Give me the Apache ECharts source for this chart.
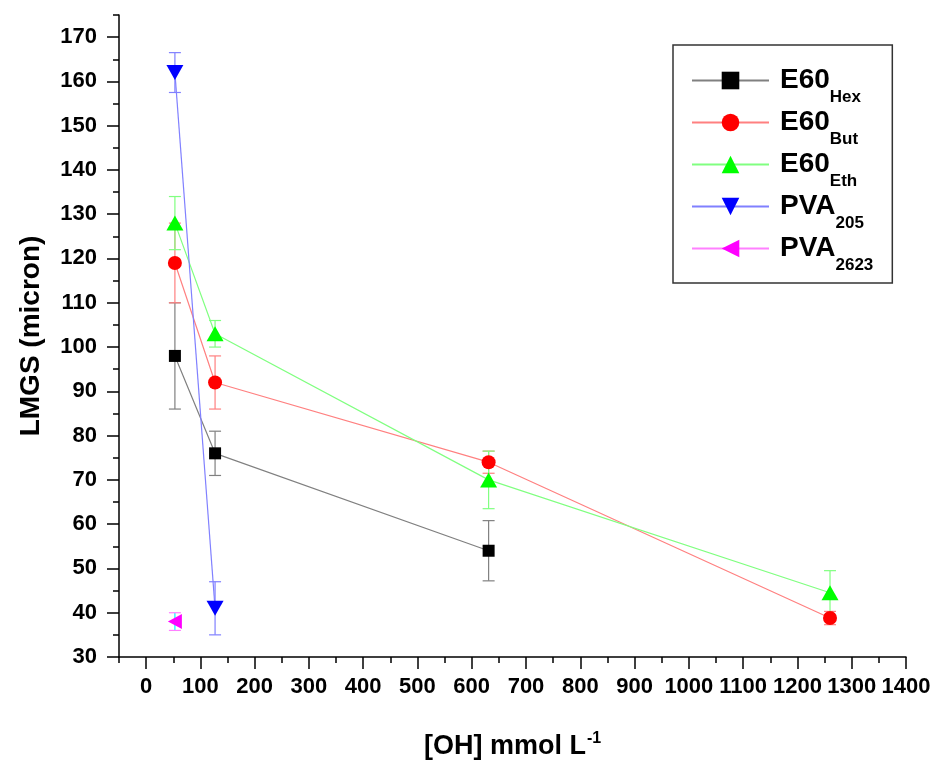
<!DOCTYPE html>
<html><head><meta charset="utf-8">
<script src="https://cdn.jsdelivr.net/npm/echarts@6/dist/echarts.min.js"></script>
<style>html,body{margin:0;padding:0;background:#fff}#c{width:934px;height:760px}</style>
</head><body><div id="c"></div>
<script>
// ---- data ----
const xValues = [53, 127, 631, 1260];
const hexY = [98, 76, 54];
const hexErr = [12, 5, 6.8];
const butY = [119, 92, 74, 38.8];
const butErr = [9, 6, 2.5, 1.5];
const ethY = [128, 103, 70, 44.5];
const ethErr = [6, 3, 6.5, 5];
const pva205X = [53, 127];
const pva205Y = [162, 41];
const pva205Err = [4.5, 6];
const pva2623X = [53];
const pva2623Y = [38];
const pva2623Err = [2];
const mainNames = ['E60', 'E60', 'E60', 'PVA', 'PVA'];
const subNames = ['Hex', 'But', 'Eth', '205', '2623'];
const xAxisTitle = '[OH] mmol L';
const xAxisSup = '-1';
const yAxisTitle = 'LMGS (micron)';

const FONT = 'Liberation Sans, Arial, sans-serif';
const markerColors = ['#000000', '#ff0000', '#00ff00', '#0000ff', '#ff00ff'];
const lineColors = ['#808080', '#ff8080', '#80ff80', '#8080ff', '#ff80ff'];
const symbols = ['rect', 'circle', 'triangle', 'triangle', 'triangle'];
const symbolRot = [0, 0, 0, 180, 90];
const symbolSizes = [12, 14, [17, 15], [17, 15], [15, 14]];

const sets = [
  {x: xValues.slice(0, hexY.length), y: hexY, e: hexErr},
  {x: xValues, y: butY, e: butErr},
  {x: xValues, y: ethY, e: ethErr},
  {x: pva205X, y: pva205Y, e: pva205Err},
  {x: pva2623X, y: pva2623Y, e: pva2623Err}
];
const names = mainNames.map((m, i) => m + subNames[i]);

function errRender(color, capColor) {
  return function (params, api) {
    const x = api.value(0), y = api.value(1), e = api.value(2);
    const t = api.coord([x, y + e]), b = api.coord([x, y - e]);
    const hw = 6;
    const st = {stroke: color, lineWidth: 1.2};
    const cs = {stroke: capColor || color, lineWidth: 1.2};
    return {type: 'group', children: [
      {type: 'line', shape: {x1: t[0], y1: t[1], x2: b[0], y2: b[1]}, style: st},
      {type: 'line', shape: {x1: t[0] - hw, y1: t[1], x2: t[0] + hw, y2: t[1]}, style: cs},
      {type: 'line', shape: {x1: b[0] - hw, y1: b[1], x2: b[0] + hw, y2: b[1]}, style: cs}
    ]};
  };
}

const series = [];
sets.forEach((s, i) => {
  const errColor = i === 4 ? '#00ffff' : lineColors[i];
  series.push({
    type: 'custom', name: names[i] + '_err', xAxisIndex: 0, yAxisIndex: 0, z: 2,
    renderItem: errRender(errColor, lineColors[i]),
    encode: {x: 0, y: 1},
    data: s.x.map((xv, k) => [xv, s.y[k], s.e[k]]),
    silent: true
  });
});
sets.forEach((s, i) => {
  series.push({
    type: 'line', name: names[i], xAxisIndex: 0, yAxisIndex: 0, z: 3 + i,
    data: s.x.map((xv, k) => [xv, s.y[k]]),
    symbol: symbols[i], symbolRotate: symbolRot[i], symbolSize: symbolSizes[i],
    showAllSymbol: true,
    itemStyle: {color: markerColors[i]},
    lineStyle: {color: lineColors[i], width: 1.2},
    emphasis: {disabled: true},
    animation: false
  });
});

const axisLineStyle = {color: '#000', width: 1.5};
const labelStyle = {color: '#000', fontSize: 22, fontWeight: 'bold', fontFamily: FONT,
  formatter: function (v) { return String(v); }};

const option = {
  animation: false,
  backgroundColor: '#ffffff',
  grid: [
    {left: 119, right: 28, top: 15, bottom: 103, outerBoundsMode: 'none', containLabel: false},
    {left: 146, right: 28, top: 15, bottom: 103, outerBoundsMode: 'none', containLabel: false},
    {left: 119, right: 28, top: 37, bottom: 103, outerBoundsMode: 'none', containLabel: false}
  ],
  xAxis: [
    {gridIndex: 0, type: 'value', min: -50, max: 1400, interval: 50,
     axisLine: {lineStyle: axisLineStyle, onZero: false},
     axisTick: {length: 6, lineStyle: axisLineStyle},
     axisLabel: {show: false}, splitLine: {show: false},
     name: '{a|' + xAxisTitle + '}{s|' + xAxisSup + '}', nameLocation: 'middle', nameGap: 74,
     nameTextStyle: {rich: {
       a: {fontSize: 27, fontWeight: 'bold', fontFamily: FONT, color: '#000', lineHeight: 32},
       s: {fontSize: 16, fontWeight: 'bold', fontFamily: FONT, color: '#000', lineHeight: 16, padding: [0, 0, 16, 1]}
     }}},
    {gridIndex: 1, type: 'value', min: 0, max: 1400, interval: 100,
     axisLine: {show: false, onZero: false},
     axisTick: {length: 12, lineStyle: axisLineStyle},
     axisLabel: Object.assign({margin: 19}, labelStyle), splitLine: {show: false}},
    {gridIndex: 2, type: 'value', min: -50, max: 1400, show: false}
  ],
  yAxis: [
    {gridIndex: 0, type: 'value', min: 30, max: 175, interval: 5,
     axisLine: {show: true, lineStyle: axisLineStyle, onZero: false},
     axisTick: {show: true, length: 6, lineStyle: axisLineStyle},
     axisLabel: {show: false}, splitLine: {show: false},
     name: yAxisTitle, nameLocation: 'middle', nameGap: 74, nameRotate: 90,
     nameTextStyle: {fontSize: 28, fontWeight: 'bold', fontFamily: FONT, color: '#000'}},
    {gridIndex: 1, type: 'value', min: 30, max: 175, show: false},
    {gridIndex: 2, type: 'value', min: 30, max: 170, interval: 10,
     axisLine: {show: false, onZero: false},
     axisTick: {show: true, length: 12, lineStyle: axisLineStyle},
     axisLabel: Object.assign({margin: 22}, labelStyle), splitLine: {show: false}}
  ],
  legend: {
    data: names, orient: 'vertical', left: 673, top: 45,
    padding: [10, 19, 9, 18], itemGap: -9,
    itemWidth: 77, itemHeight: 22,
    borderColor: '#333', borderWidth: 1.5, borderRadius: 0,
    selectedMode: false,
    formatter: function (name) {
      const i = names.indexOf(name);
      return '{a|' + mainNames[i] + '}{b|' + subNames[i] + '}';
    },
    textStyle: {rich: {
      a: {fontSize: 28, fontWeight: 'bold', fontFamily: FONT, color: '#000', lineHeight: 30, padding: [0, 0, 0, 6]},
      b: {fontSize: 17, fontWeight: 'bold', fontFamily: FONT, color: '#000', lineHeight: 16, padding: [34, 0, 0, 0]}
    }}
  },
  series: series
};

const chart = echarts.init(document.getElementById('c'), null, {renderer: 'canvas'});
chart.setOption(option);
</script>
</body></html>
